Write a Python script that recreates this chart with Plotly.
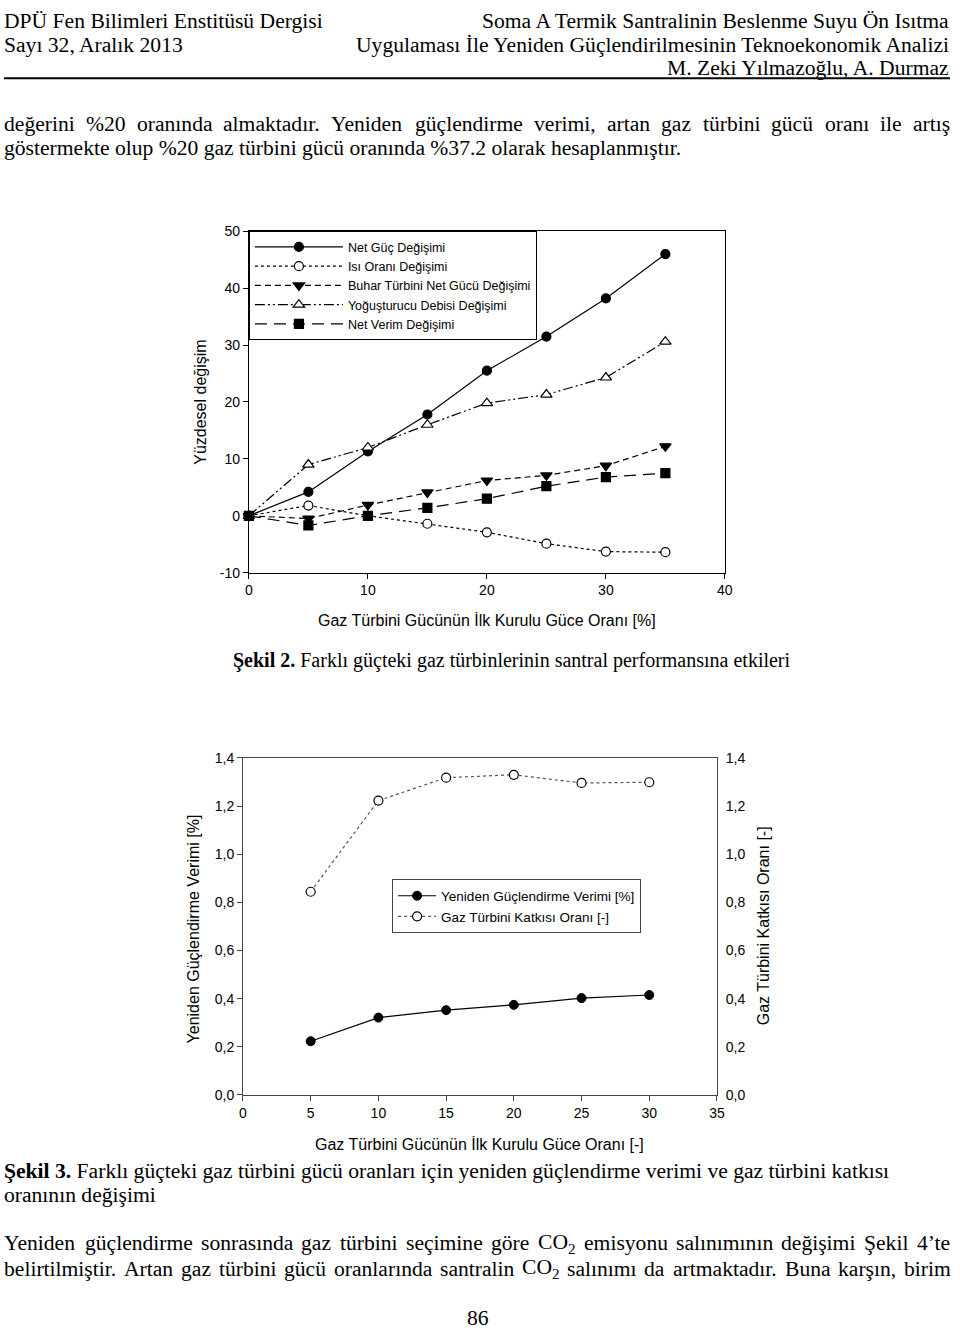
import plotly.graph_objects as go

W, H = 960, 1340

# ---------------- Chart 1 data (Şekil 2) ----------------
x1 = [0, 5, 10, 15, 20, 25, 30, 35]
net_guc = [0, 4.2, 11.3, 17.8, 25.5, 31.5, 38.2, 46.0]
isi_orani = [0, 1.8, 0.0, -1.4, -2.9, -4.9, -6.3, -6.4]
buhar_turbini = [0, -0.5, 1.9, 4.1, 6.2, 7.1, 8.8, 12.2]
yogusturucu = [0, 9.0, 12.0, 16.0, 19.8, 21.3, 24.3, 30.6]
net_verim = [0, -1.7, 0.0, 1.4, 3.0, 5.2, 6.8, 7.5]
names1 = ["Net Güç Değişimi", "Isı Oranı Değişimi", "Buhar Türbini Net Gücü Değişimi",
          "Yoğuşturucu Debisi Değişimi", "Net Verim Değişimi"]
x1_ticks = [0, 10, 20, 30, 40]
y1_ticks = [-10, 0, 10, 20, 30, 40, 50]
y1_ticktext = ["-10", "0", "10", "20", "30", "40", "50"]

# ---------------- Chart 2 data (Şekil 3) ----------------
x2 = [5, 10, 15, 20, 25, 30]
yg_verimi = [0.223, 0.321, 0.352, 0.374, 0.402, 0.415]
gt_katki = [0.844, 1.223, 1.318, 1.330, 1.296, 1.299]
names2 = ["Yeniden Güçlendirme Verimi [%]", "Gaz Türbini Katkısı Oranı [-]"]
x2_ticks = [0, 5, 10, 15, 20, 25, 30, 35]
y2_ticks = [0.0, 0.2, 0.4, 0.6, 0.8, 1.0, 1.2, 1.4]

SANS = "Liberation Sans, Arial, sans-serif"
SERIF = "Liberation Serif, Times New Roman, serif"
FS = 21.6

def px_x(v):
    return v / W

def px_y(v):
    return 1 - v / H

fig = go.Figure()

styles1 = [
    dict(dash="solid", symbol="circle", fill="black", size=9),
    dict(dash="dot", symbol="circle", fill="white", size=9),
    dict(dash="6px,4px", symbol="triangle-down", fill="black", size=10),
    dict(dash="10px,3px,2px,3px,2px,3px", symbol="triangle-up", fill="white", size=10),
    dict(dash="12px,7px", symbol="square", fill="black", size=9),
]
series1 = [net_guc, isi_orani, buhar_turbini, yogusturucu, net_verim]
for nm, ys, st in zip(names1, series1, styles1):
    fig.add_trace(go.Scatter(
        x=x1, y=ys, name=nm, mode="lines+markers", xaxis="x", yaxis="y",
        line=dict(color="black", width=1.2, dash=st["dash"]),
        marker=dict(symbol=st["symbol"], size=st["size"], color=st["fill"],
                    line=dict(color="black", width=1.2)),
        cliponaxis=False, legend="legend"))

fig.add_trace(go.Scatter(
    x=x2, y=yg_verimi, name=names2[0], mode="lines+markers", xaxis="x2", yaxis="y2",
    line=dict(color="black", width=1.2),
    marker=dict(symbol="circle", size=9, color="black", line=dict(color="black", width=1)),
    cliponaxis=False, legend="legend2"))
fig.add_trace(go.Scatter(
    x=x2, y=gt_katki, name=names2[1], mode="lines+markers", xaxis="x2", yaxis="y3",
    line=dict(color="#555", width=1.2, dash="dot"),
    marker=dict(symbol="circle", size=9, color="white", line=dict(color="black", width=1.2)),
    cliponaxis=False, legend="legend2"))

axfont = dict(family=SANS, size=14, color="black")
common = dict(showgrid=False, zeroline=False, showline=True, linewidth=1,
              ticks="outside", ticklen=5, tickwidth=1, tickfont=axfont)

fig.update_layout(
    width=W, height=H, margin=dict(l=0, r=0, t=0, b=0),
    paper_bgcolor="white", plot_bgcolor="white",
    separators=",.",
    xaxis=dict(domain=[px_x(248), px_x(730)], anchor="y", range=[0, 40],
               tickvals=x1_ticks, mirror=True, linecolor="black", tickcolor="black", **common),
    yaxis=dict(domain=[px_y(571.5), px_y(226)], anchor="x", range=[-10, 50],
               tickvals=y1_ticks, ticktext=y1_ticktext, mirror=True,
               linecolor="black", tickcolor="black", **common),
    xaxis2=dict(domain=[px_x(242), px_x(722)], anchor="y2", range=[0, 35],
                tickvals=x2_ticks, mirror=True, linecolor="#444", tickcolor="#444", **common),
    yaxis2=dict(domain=[px_y(1100), px_y(759)], anchor="x2", range=[0, 1.4],
                tickvals=y2_ticks, tickformat=".1f", linecolor="#444", tickcolor="#444", **common),
    yaxis3=dict(overlaying="y2", side="right", anchor="x2", range=[0, 1.4],
                tickvals=y2_ticks, tickformat=".1f", linecolor="#444",
                tickcolor="rgba(0,0,0,0)", **common),
    legend=dict(x=px_x(248), y=px_y(226), xanchor="left", yanchor="top",
                bordercolor="black", borderwidth=1, bgcolor="white",
                font=dict(family=SANS, size=12.5, color="black"), itemwidth=88,
                tracegroupgap=0),
    legend2=dict(x=px_x(393), y=px_y(882), xanchor="left", yanchor="top",
                 bordercolor="#444", borderwidth=1, bgcolor="white",
                 font=dict(family=SANS, size=13.5, color="black"), itemwidth=38,
                 tracegroupgap=0),
)

ann = []

def text(t, x, y, anchor="left", size=FS, family=SERIF, angle=0):
    ann.append(dict(text=t, x=px_x(x), y=px_y(y), xref="paper", yref="paper",
                    xanchor=anchor, yanchor="middle", showarrow=False, textangle=angle,
                    borderpad=0, borderwidth=0,
                    font=dict(family=family, size=size, color="black")))

# Times metrics (per 1000 em) used to justify body lines
TW = {" ": 250, "%": 833, "’": 333, ",": 250, ".": 250, "-": 333, "[": 333, "]": 333,
      "a": 444, "b": 500, "c": 444, "d": 500, "e": 444, "f": 333, "g": 500, "h": 500,
      "i": 278, "j": 278, "k": 500, "l": 278, "m": 778, "n": 500, "o": 500, "p": 500,
      "q": 500, "r": 333, "s": 389, "t": 278, "u": 500, "v": 500, "w": 722, "x": 500,
      "y": 500, "z": 444, "A": 722, "B": 667, "C": 667, "D": 722, "E": 611, "F": 556,
      "G": 722, "H": 722, "I": 333, "K": 722, "L": 611, "M": 889, "N": 722, "O": 722,
      "P": 556, "R": 667, "S": 556, "T": 611, "U": 722, "V": 722, "Y": 722, "Z": 611,
      "ç": 444, "ğ": 500, "ı": 278, "ö": 500, "ş": 389, "ü": 500, "İ": 333, "Ş": 556,
      "Ö": 722, "Ü": 722, "Ç": 667}

def word_w(w, size):
    if w == "CO2":
        return (667 + 722 + 350) / 1000 * size
    return sum(TW.get(c, 500) for c in w) / 1000 * size

def disp(w):
    return "CO<sub>2</sub>" if w == "CO2" else w

def justified(line, y, x0=0, x1=958, size=FS):
    words = line.split(" ")
    widths = [word_w(w, size) for w in words]
    gap = (x1 - x0 - sum(widths)) / (len(words) - 1)
    x = x0
    for w, ww in zip(words, widths):
        text(disp(w), x, y, size=size)
        x += ww + gap

# header
text("DPÜ Fen Bilimleri Enstitüsü Dergisi", 0, 13)
text("Sayı 32, Aralık 2013", 0, 37)
text("Soma A Termik Santralinin Beslenme Suyu Ön Isıtma", 957, 13, anchor="right")
text("Uygulaması İle Yeniden Güçlendirilmesinin Teknoekonomik Analizi", 957, 37, anchor="right")
text("M. Zeki Yılmazoğlu, A. Durmaz", 957, 61, anchor="right")

# body
justified("değerini %20 oranında almaktadır. Yeniden güçlendirme verimi, artan gaz türbini gücü oranı ile artış", 117)
text("göstermekte olup %20 gaz türbini gücü oranında %37.2 olarak hesaplanmıştır.", 0, 142)

# chart 1 titles
text("Yüzdesel değişim", 199, 399, anchor="center", size=16, family=SANS, angle=-90)
text("Gaz Türbini Gücünün İlk Kurulu Güce Oranı [%]", 489, 619, anchor="center", size=16, family=SANS)
text("<b>Şekil 2.</b> Farklı güçteki gaz türbinlerinin santral performansına etkileri", 232, 660, size=20)

# chart 2 titles
text("Yeniden Güçlendirme Verimi [%]", 192, 932, anchor="center", size=16, family=SANS, angle=-90)
text("Gaz Türbini Katkısı Oranı [-]", 770, 929, anchor="center", size=16, family=SANS, angle=-90)
text("Gaz Türbini Gücünün İlk Kurulu Güce Oranı [-]", 482, 1150, anchor="center", size=16, family=SANS)
text("<b>Şekil 3.</b> Farklı güçteki gaz türbini gücü oranları için yeniden güçlendirme verimi ve gaz türbini katkısı", 0, 1177)
text("oranının değişimi", 0, 1201)

justified("Yeniden güçlendirme sonrasında gaz türbini seçimine göre CO2 emisyonu salınımının değişimi Şekil 4’te", 1250)
justified("belirtilmiştir. Artan gaz türbini gücü oranlarında santralin CO2 salınımı da artmaktadır. Buna karşın, birim", 1276)
text("86", 480, 1326, anchor="center")

fig.update_layout(annotations=ann,
                  shapes=[dict(type="line", xref="paper", yref="paper",
                               x0=0, x1=px_x(958), y0=px_y(71), y1=px_y(71),
                               line=dict(color="black", width=2))])

page_css = (
    "var de=document.documentElement,b=document.body;"
    "de.style.margin='0';de.style.padding='0';de.style.overflow='hidden';"
    "b.style.margin='0';b.style.padding='0';b.style.overflow='hidden';"
    "var gd=document.getElementById('{plot_id}');"
    "gd.style.position='absolute';gd.style.left='0px';gd.style.top='0px';"
)

fig.write_html("out.html", config={"displayModeBar": False}, post_script=page_css)
